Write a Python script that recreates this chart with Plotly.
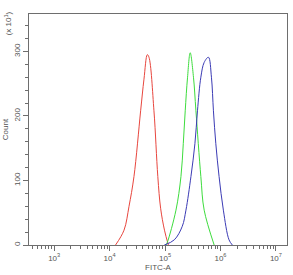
import plotly.graph_objects as go

# Red histogram (fluorescence intensity, count)
red_x = [12800, 18200, 22400, 27500, 36300, 41700, 47900, 51300, 63100, 74100, 83200, 97700, 114800]
red_y = [0, 23, 60, 106, 208, 257, 295, 291, 208, 106, 57, 23, 0]

# Green histogram
green_x = [104200, 109900, 157400, 193600, 213300, 231200, 254700, 284400, 325800, 360600, 442600, 508200, 769100]
green_y = [0, 4, 54, 106, 157, 208, 260, 298, 260, 208, 106, 54, 0]

# Blue histogram
blue_x = [97000, 146900, 204600, 238200, 293100, 345900, 384600, 442600, 508200, 606700, 687100, 746400,
          824100, 944100, 1127000, 1426000, 1637000]
blue_y = [0, 8, 29, 54, 106, 157, 208, 260, 283, 291, 260, 208, 157, 106, 54, 8, 0]

x_major = [1e3, 1e4, 1e5, 1e6, 1e7]
x_major_text = ["10<sup>3</sup>", "10<sup>4</sup>", "10<sup>5</sup>", "10<sup>6</sup>", "10<sup>7</sup>"]
y_major = [0, 100, 200, 300]

x_minor = [m * d for d in [1e2, 1e3, 1e4, 1e5, 1e6, 1e7] for m in range(2, 10)]
y_minor = list(range(0, 360, 20))

fig = go.Figure()
fig.add_trace(go.Scatter(x=red_x, y=red_y, mode="lines", line=dict(color="#e8463e", width=1), line_shape="spline"))
fig.add_trace(go.Scatter(x=green_x, y=green_y, mode="lines", line=dict(color="#3ddc3d", width=1), line_shape="spline"))
fig.add_trace(go.Scatter(x=blue_x, y=blue_y, mode="lines", line=dict(color="#3b3bb5", width=1), line_shape="spline"))

axis_color = "#6e6e6e"
font = dict(family="Liberation Sans, Arial, sans-serif", size=8, color="#555555")

fig.update_layout(
    width=293, height=275,
    margin=dict(l=29, r=5, t=13.5, b=28),
    plot_bgcolor="white", paper_bgcolor="white",
    showlegend=False,
    font=font,
    xaxis=dict(
        type="log", range=[2.546, 7.2],
        tickvals=x_major, ticktext=x_major_text,
        ticks="outside", ticklen=5, tickcolor=axis_color,
        minor=dict(tickvals=x_minor, ticks="outside", ticklen=3, tickcolor=axis_color),
        showline=True, linecolor=axis_color, linewidth=1, mirror=True,
        showgrid=False, zeroline=False,
        title=dict(text="FITC-A", font=dict(size=8, color="#555555"), standoff=2),
        tickfont=dict(size=8, color="#555555"),
    ),
    yaxis=dict(
        range=[0, 358],
        tickvals=y_major, tickangle=-90,
        ticks="outside", ticklen=5, tickcolor=axis_color,
        minor=dict(tickvals=y_minor, ticks="outside", ticklen=3, tickcolor=axis_color),
        showline=True, linecolor=axis_color, linewidth=1, mirror=True,
        showgrid=False, zeroline=False,
        title=dict(text="Count", font=dict(size=8, color="#555555"), standoff=2),
        tickfont=dict(size=8, color="#555555"),
    ),
    annotations=[dict(
        text="(x 10<sup>1</sup>)", textangle=-90, showarrow=False,
        xref="paper", yref="paper", x=-0.081, y=0.96,
        xanchor="center", yanchor="middle",
        font=dict(size=8, color="#555555"),
    )],
)

fig.write_html("out.html")
